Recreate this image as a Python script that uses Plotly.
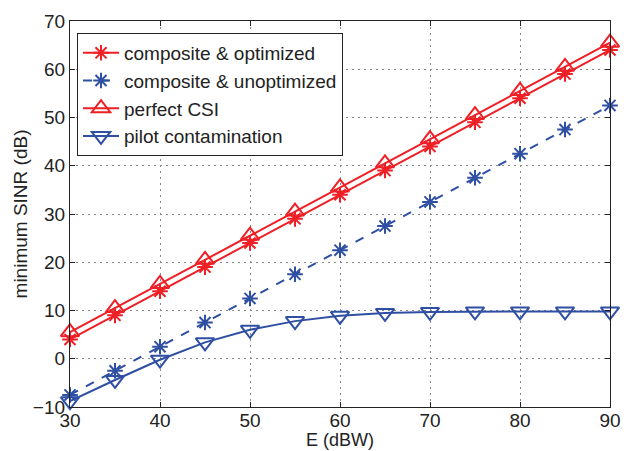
import plotly.graph_objects as go

E = [30, 35, 40, 45, 50, 55, 60, 65, 70, 75, 80, 85, 90]
comp_opt = [4, 9, 14, 19, 24, 29, 34, 39, 44, 49, 54, 59, 64]
comp_unopt = [-7.5, -2.5, 2.5, 7.5, 12.5, 17.5, 22.5, 27.5, 32.5, 37.5, 42.5, 47.5, 52.5]
perfect_csi = [5.5, 10.5, 15.5, 20.5, 25.5, 30.5, 35.5, 40.5, 45.5, 50.5, 55.5, 60.5, 65.5]
pilot_cont = [-8.8, -4.4, -0.2, 3.4, 6.0, 7.8, 8.9, 9.5, 9.7, 9.8, 9.8, 9.8, 9.8]

RED = "#ee1f25"
BLUE = "#2f4fa2"

fig = go.Figure()
fig.add_trace(go.Scatter(x=E, y=comp_opt, name="composite & optimized", mode="lines+markers",
                         line=dict(color=RED, width=2), cliponaxis=False,
                         marker=dict(symbol="asterisk-open", size=13, line=dict(color=RED, width=2))))
fig.add_trace(go.Scatter(x=E, y=comp_unopt, name="composite & unoptimized", mode="lines+markers",
                         line=dict(color=BLUE, width=2, dash="dash"), cliponaxis=False,
                         marker=dict(symbol="asterisk-open", size=13, line=dict(color=BLUE, width=2))))
fig.add_trace(go.Scatter(x=E, y=perfect_csi, name="perfect CSI", mode="lines+markers",
                         line=dict(color=RED, width=2), cliponaxis=False,
                         marker=dict(symbol="triangle-up-open", size=16, line=dict(color=RED, width=2))))
fig.add_trace(go.Scatter(x=E, y=pilot_cont, name="pilot contamination", mode="lines+markers",
                         line=dict(color=BLUE, width=2), cliponaxis=False,
                         marker=dict(symbol="triangle-down-open", size=16, line=dict(color=BLUE, width=2))))

axis_common = dict(showline=True, linecolor="#222", linewidth=1.3, mirror="ticks", ticks="inside",
                   ticklen=5, tickcolor="#222", showgrid=True, gridcolor="#888", griddash="2px,4px",
                   gridwidth=1, zeroline=False, automargin=False,
                   tickfont=dict(size=19, color="#222"))

fig.update_xaxes(range=[30, 90], dtick=10, ticklabelstandoff=-4, **axis_common)
fig.update_yaxes(range=[-10, 70], dtick=10,
                 title=dict(text="minimum SINR (dB)", font=dict(size=19, color="#222"), standoff=0),
                 **axis_common)

fig.add_annotation(text="E (dBW)", xref="paper", yref="paper", x=0.5, y=-0.0842,
                   xanchor="center", yanchor="middle", showarrow=False, borderpad=0,
                   font=dict(size=18, color="#222"))

fig.update_layout(
    width=631, height=451,
    margin=dict(l=70, r=21, t=21, b=44),
    plot_bgcolor="white", paper_bgcolor="white",
    font=dict(family="Liberation Sans, Arial, sans-serif", color="#222"),
    legend=dict(x=0.013, y=0.969, xanchor="left", yanchor="top", bgcolor="white",
                bordercolor="#222", borderwidth=1, font=dict(size=19, color="#222"),
                itemwidth=36, tracegroupgap=0),
)

fig.write_html("out.html", config={"displayModeBar": False},
               post_script="document.body.style.margin='0';document.body.style.overflow='hidden';")
